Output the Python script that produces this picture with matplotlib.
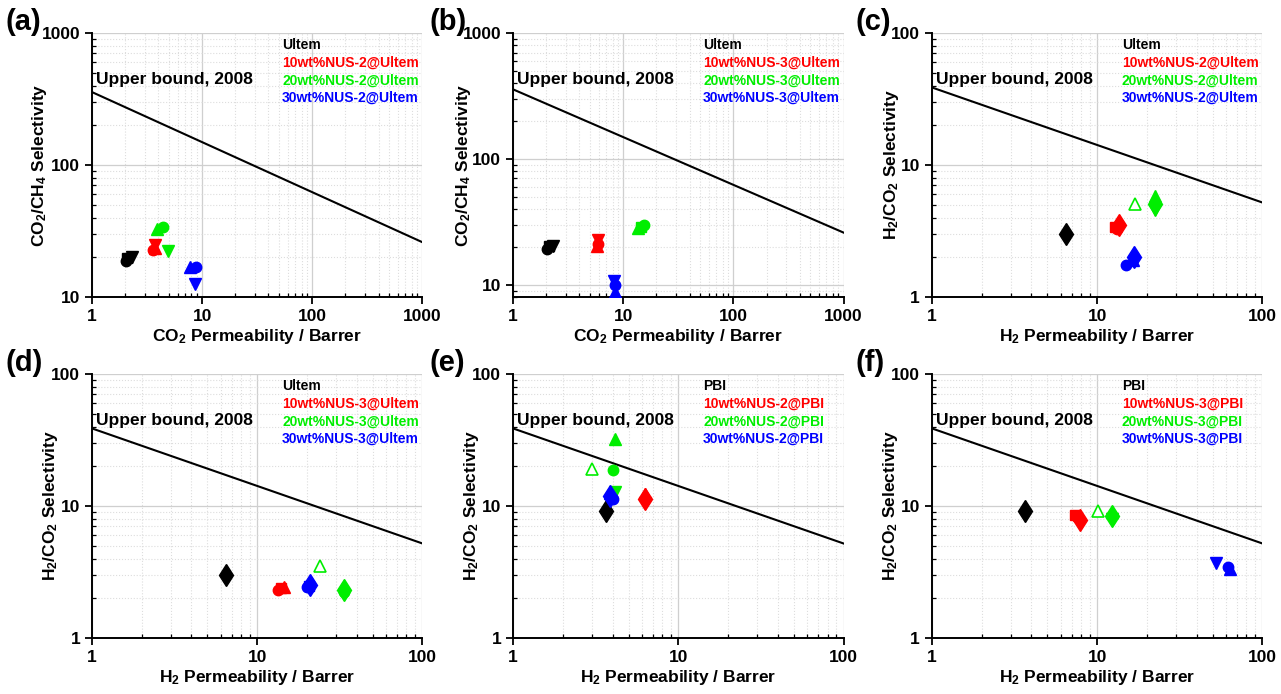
import matplotlib
matplotlib.use('Agg')
import matplotlib.pyplot as plt
from matplotlib.ticker import LogLocator, FuncFormatter, NullFormatter

plt.rcParams['font.family'] = ['Liberation Sans', 'DejaVu Sans']
plt.rcParams['font.weight'] = 'bold'
plt.rcParams['mathtext.fontset'] = 'custom'
plt.rcParams['mathtext.rm'] = 'Liberation Sans:bold'
plt.rcParams['mathtext.bf'] = 'Liberation Sans:bold'
plt.rcParams['mathtext.default'] = 'bf'

# --- Robeson 2008 upper bounds (end points) ---
ub_co2ch4_x = [1, 1000]
ub_co2ch4_y = [357, 26]
ub_h2co2_x = [1, 100]
ub_h2co2_y = [38.7, 5.2]

# --- data points: x, y, colour key, marker ('^o' = open triangle) ---
a_x = [2.05, 2.1, 2.3, 3.6, 3.7, 3.7, 3.9, 4.4, 4.95, 7.8, 8.8, 8.7]
a_y = [18.8, 19.8, 20.2, 22.8, 23.5, 24.8, 32.5, 33.8, 22.3, 16.9, 17.0, 12.5]
a_c = ['k', 'k', 'k', 'r', 'r', 'r', 'g', 'g', 'g', 'b', 'b', 'b']
a_m = ['o', 's', 'v', 'o', '^', 'v', '^', 'o', 'v', '^', 'o', 'v']

b_x = [2.05, 2.1, 2.3, 5.8, 5.9, 5.9, 13.5, 14.5, 15.3, 8.3, 8.4, 8.4]
b_y = [19.3, 20.2, 20.5, 20.3, 21.0, 22.6, 28.3, 29.0, 29.8, 10.7, 10.0, 8.8]
b_c = ['k', 'k', 'k', 'r', 'r', 'r', 'g', 'g', 'g', 'b', 'b', 'b']
b_m = ['o', 's', 'v', '^', 'o', 'v', '^', 's', 'o', 'v', 'o', '^']

c_x = [6.45, 12.8, 13.1, 13.6, 17.0, 22.5, 22.5, 22.5, 15.0, 16.5, 16.8]
c_y = [3.0, 3.4, 3.3, 3.5, 5.1, 5.8, 5.1, 4.6, 1.75, 1.9, 2.02]
c_c = ['k', 'r', 'r', 'r', 'g', 'g', 'g', 'g', 'b', 'b', 'b']
c_m = ['d', 's', 'o', 'd', '^o', '^', 'd', 'v', 'o', '^', 'd']

d_x = [6.5, 13.3, 14.0, 14.6, 20.0, 20.5, 21.0, 24.1, 33.5, 33.5]
d_y = [3.0, 2.33, 2.38, 2.42, 2.45, 2.48, 2.52, 3.5, 2.3, 2.25]
d_c = ['k', 'r', 'r', 'r', 'b', 'b', 'b', 'g', 'g', 'g']
d_m = ['d', 'o', 's', '^', 'o', 's', 'd', '^o', 'd', 'o']

e_x = [3.65, 6.3, 6.3, 6.3, 4.15, 3.0, 4.05, 4.15, 3.85, 3.85, 4.0]
e_y = [9.2, 12.4, 11.2, 10.5, 32.0, 19.1, 18.9, 12.7, 12.6, 12.0, 11.3]
e_c = ['k', 'r', 'r', 'r', 'g', 'g', 'g', 'g', 'b', 'b', 'b']
e_m = ['d', '^', 'd', 'v', '^', '^o', 'o', 'v', '^', 'd', 'o']

f_x = [3.65, 7.35, 7.6, 7.9, 10.1, 12.3, 12.3, 12.3, 52.5, 62.0, 64.0]
f_y = [9.2, 8.55, 8.3, 7.9, 9.1, 9.0, 8.4, 8.0, 3.72, 3.45, 3.35]
f_c = ['k', 'r', 'r', 'r', 'g', 'g', 'g', 'g', 'b', 'b', 'b']
f_m = ['d', 's', 'o', 'd', '^o', '^', 'd', 'v', 'v', 'o', '^']

legend_ultem_2 = ['Ultem', '10wt%NUS-2@Ultem', '20wt%NUS-2@Ultem', '30wt%NUS-2@Ultem']
legend_ultem_3 = ['Ultem', '10wt%NUS-3@Ultem', '20wt%NUS-3@Ultem', '30wt%NUS-3@Ultem']
legend_pbi_2 = ['PBI', '10wt%NUS-2@PBI', '20wt%NUS-2@PBI', '30wt%NUS-2@PBI']
legend_pbi_3 = ['PBI', '10wt%NUS-3@PBI', '20wt%NUS-3@PBI', '30wt%NUS-3@PBI']

COLORS = {'k': 'black', 'r': '#ff0000', 'g': '#00ee00', 'b': '#0000ff'}
LEG_COLORS = ['black', '#ff0000', '#00ee00', '#0000ff']
MS = {'o': 7.5, 's': 7, '^': 8.5, 'v': 8.5, 'd': 11.5, '^o': 8.5}

fig = plt.figure(figsize=(12.81, 6.94), dpi=100)

W, H = 0.2580, 0.3804
panels = [
    # label, left, bottom, xs, ys, cs, ms, xlim, ylim, ub, ylabel, xlabel, legend, label x, ylabel x
    ('(a)', 0.0718, 0.572, a_x, a_y, a_c, a_m, (1, 1000), (10, 1000), 'co2ch4',
     r'CO$_2$/CH$_4$ Selectivity', r'CO$_2$ Permeability / Barrer', legend_ultem_2, 0.004, -0.13),
    ('(b)', 0.4005, 0.572, b_x, b_y, b_c, b_m, (1, 1000), (8, 1000), 'co2ch4',
     r'CO$_2$/CH$_4$ Selectivity', r'CO$_2$ Permeability / Barrer', legend_ultem_3, 0.335, -0.12),
    ('(c)', 0.7275, 0.572, c_x, c_y, c_c, c_m, (1, 100), (1, 100), 'h2co2',
     r'H$_2$/CO$_2$ Selectivity', r'H$_2$ Permeability / Barrer', legend_ultem_2, 0.668, -0.095),
    ('(d)', 0.0718, 0.0807, d_x, d_y, d_c, d_m, (1, 100), (1, 100), 'h2co2',
     r'H$_2$/CO$_2$ Selectivity', r'H$_2$ Permeability / Barrer', legend_ultem_3, 0.004, -0.097),
    ('(e)', 0.4005, 0.0807, e_x, e_y, e_c, e_m, (1, 100), (1, 100), 'h2co2',
     r'H$_2$/CO$_2$ Selectivity', r'H$_2$ Permeability / Barrer', legend_pbi_2, 0.335, -0.097),
    ('(f)', 0.7275, 0.0807, f_x, f_y, f_c, f_m, (1, 100), (1, 100), 'h2co2',
     r'H$_2$/CO$_2$ Selectivity', r'H$_2$ Permeability / Barrer', legend_pbi_3, 0.668, -0.097),
]

fmt = FuncFormatter(lambda v, p: f'{v:g}')

for (lab, left, bottom, xs, ys, cs, ms, xlim, ylim, ub, ylab, xlab, leg, lab_x, ylab_x) in panels:
    ax = fig.add_axes([left, bottom, W, H])
    ax.set_xscale('log')
    ax.set_yscale('log')
    ax.set_xlim(*xlim)
    ax.set_ylim(*ylim)
    ax.set_axisbelow(True)
    ax.grid(which='major', color='#cfcfcf', lw=0.9)
    ax.grid(which='minor', color='#dddddd', ls=':', lw=0.8)

    for s in ['top', 'right']:
        ax.spines[s].set_visible(False)
    for s in ['left', 'bottom']:
        ax.spines[s].set_linewidth(1.4)

    ax.xaxis.set_major_locator(LogLocator(base=10))
    ax.yaxis.set_major_locator(LogLocator(base=10))
    ax.xaxis.set_minor_locator(LogLocator(base=10, subs=range(2, 10)))
    ax.yaxis.set_minor_locator(LogLocator(base=10, subs=range(2, 10)))
    ax.xaxis.set_major_formatter(fmt)
    ax.yaxis.set_major_formatter(fmt)
    ax.xaxis.set_minor_formatter(NullFormatter())
    ax.yaxis.set_minor_formatter(NullFormatter())
    ax.tick_params(which='major', direction='out', length=5, width=1.3, labelsize=12.5)
    ax.tick_params(which='minor', direction='in', length=3, width=0.9)

    if ub == 'co2ch4':
        ax.plot(ub_co2ch4_x, ub_co2ch4_y, color='black', lw=1.5)
    else:
        ax.plot(ub_h2co2_x, ub_h2co2_y, color='black', lw=1.5)

    for x, y, c, m in zip(xs, ys, cs, ms):
        if m == '^o':
            ax.plot(x, y, marker='^', ms=MS[m], mfc='white', mec=COLORS[c],
                    mew=1.2, ls='none', zorder=3)
        else:
            ax.plot(x, y, marker=m, ms=MS[m], color=COLORS[c], mec=COLORS[c],
                    ls='none', zorder=3)

    ax.text(0.013, 0.825, 'Upper bound, 2008', transform=ax.transAxes,
            fontsize=12.5, fontweight='bold', ha='left', va='center')
    for i, t in enumerate(leg):
        ax.text(0.575, 0.953 - i * 0.066, t, transform=ax.transAxes, fontsize=10,
                fontweight='bold', color=LEG_COLORS[i], ha='left', va='center')

    ax.set_xlabel(xlab, fontsize=12.5, fontweight='bold', labelpad=2)
    ax.set_ylabel(ylab, fontsize=12.5, fontweight='bold')
    ax.yaxis.set_label_coords(ylab_x, 0.5)

    fig.text(lab_x, bottom + H + 0.016, lab, fontsize=21, fontweight='bold',
             ha='left', va='center')

fig.savefig('out.png', dpi=100)
